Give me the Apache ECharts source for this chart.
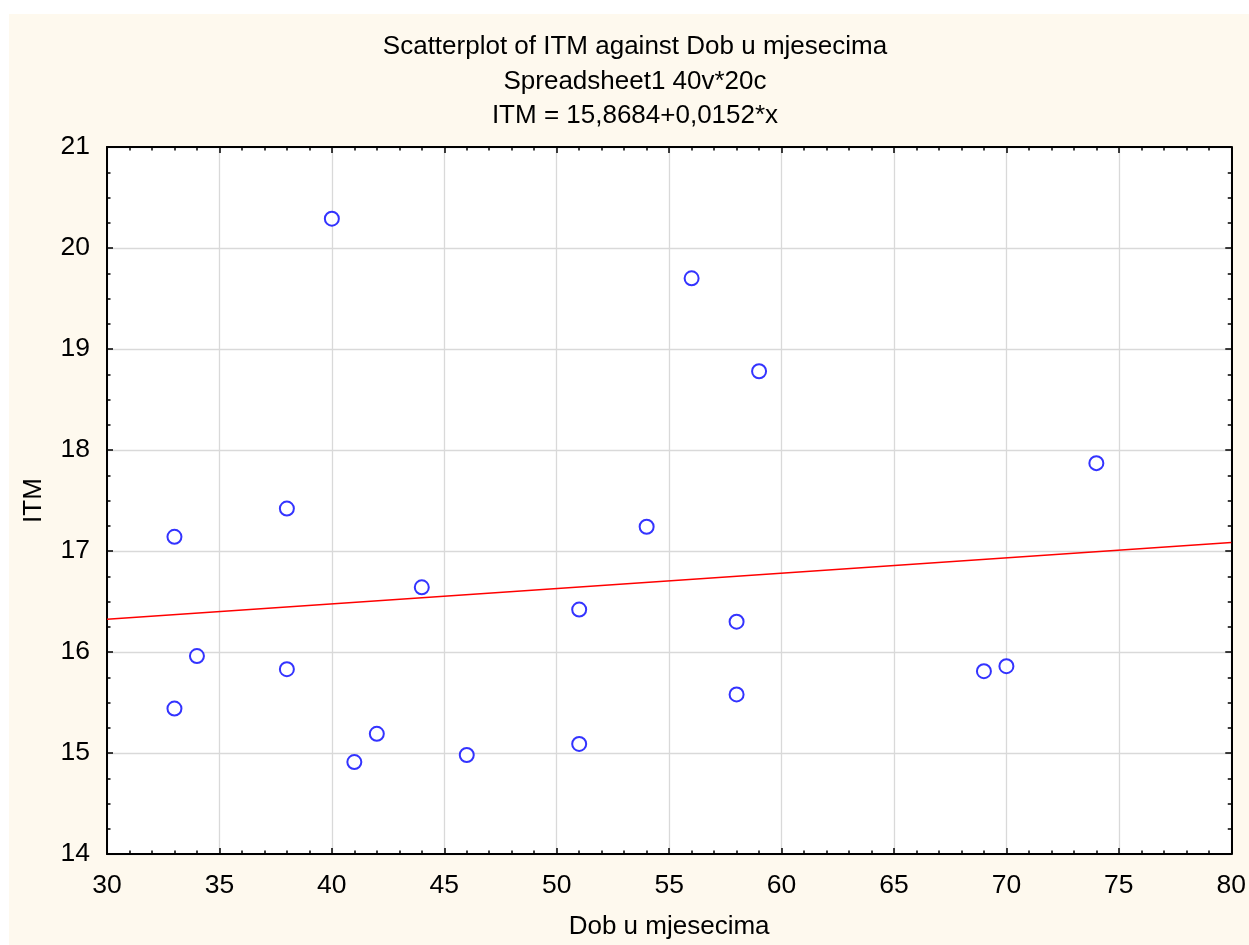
<!DOCTYPE html>
<html>
<head>
<meta charset="utf-8">
<script src="https://cdn.jsdelivr.net/npm/echarts@6/dist/echarts.min.js"></script>
<style>
  html, body { margin: 0; padding: 0; background: #ffffff; }
  #wrap { position: relative; width: 1249px; height: 945px; background: #ffffff; overflow: hidden; }
  #cream { position: absolute; left: 9px; top: 14px; width: 1240px; height: 931px; background: #fef9ee; }
  #chart { position: absolute; left: 0; top: 0; width: 1249px; height: 945px; }
</style>
</head>
<body>
<div id="wrap"><div id="cream"></div><div id="chart"></div></div>
<script>
// Data
const dobMonths = [33, 33, 34, 38, 38, 40, 41, 42, 44, 46, 51, 51, 54, 56, 58, 58, 59, 69, 70, 74];
const itmValues = [17.14, 15.44, 15.96, 17.42, 15.83, 20.29, 14.91, 15.19, 16.64, 14.98, 16.42, 15.09, 17.24, 19.70, 16.30, 15.58, 18.78, 15.81, 15.86, 17.87];
const regIntercept = 15.8684;
const regSlope = 0.0152;
const xRange = [30, 80];
const yRange = [14, 21];
const titleLines = ['Scatterplot of ITM against Dob u mjesecima', 'Spreadsheet1 40v*20c', 'ITM = 15,8684+0,0152*x'];
const xName = 'Dob u mjesecima';
const yName = 'ITM';

const points = dobMonths.map((x, i) => [x, itmValues[i]]);
const fitLine = xRange.map(x => [x, regIntercept + regSlope * x]);

const FONT = '"Liberation Sans", Arial, sans-serif';
const axisLineStyle = { show: true, onZero: false, lineStyle: { color: '#000', width: 2 } };

const chart = echarts.init(document.getElementById('chart'), null, { renderer: 'canvas' });
chart.setOption({
  backgroundColor: 'transparent',
  animation: false,
  title: {
    text: titleLines.join('\n'),
    left: 635,
    top: 30,
    padding: 0,
    textAlign: 'center',
    textStyle: { fontFamily: FONT, fontSize: 26, fontWeight: 'normal', color: '#000', lineHeight: 34.5 }
  },
  grid: {
    left: 107, right: 16, top: 147, bottom: 90,
    show: true, backgroundColor: '#ffffff', borderWidth: 0
  },
  xAxis: [{
    type: 'value', min: xRange[0], max: xRange[1], interval: 5, position: 'bottom',
    name: xName, nameLocation: 'middle', nameGap: 60,
    nameTextStyle: { fontFamily: FONT, fontSize: 26, color: '#000' },
    axisLine: axisLineStyle,
    axisTick: { show: true, inside: true, length: 6, lineStyle: { color: '#000', width: 1.5 } },
    minorTick: { show: true, splitNumber: 5, length: 3.5, lineStyle: { color: '#000', width: 1.5 } },
    axisLabel: { fontFamily: FONT, fontSize: 26.5, color: '#000', margin: 18 },
    splitLine: { show: true, lineStyle: { color: '#d9d9d9', width: 1.3 } }
  }, {
    type: 'value', min: xRange[0], max: xRange[1], interval: 5, position: 'top',
    axisLine: axisLineStyle,
    axisTick: { show: true, inside: true, length: 6, lineStyle: { color: '#000', width: 1.5 } },
    minorTick: { show: true, splitNumber: 5, length: 3.5, lineStyle: { color: '#000', width: 1.5 } },
    axisLabel: { show: false },
    splitLine: { show: false }
  }],
  yAxis: [{
    type: 'value', min: yRange[0], max: yRange[1], interval: 1, position: 'left',
    name: yName, nameLocation: 'middle', nameGap: 60, nameRotate: 90,
    nameTextStyle: { fontFamily: FONT, fontSize: 26, color: '#000' },
    axisLine: axisLineStyle,
    axisTick: { show: true, inside: true, length: 6, lineStyle: { color: '#000', width: 1.5 } },
    minorTick: { show: true, splitNumber: 4, length: 3.5, lineStyle: { color: '#000', width: 1.5 } },
    axisLabel: { fontFamily: FONT, fontSize: 26.5, color: '#000', margin: 17 },
    splitLine: { show: true, lineStyle: { color: '#d9d9d9', width: 1.3 } }
  }, {
    type: 'value', min: yRange[0], max: yRange[1], interval: 1, position: 'right',
    axisLine: axisLineStyle,
    axisTick: { show: true, inside: true, length: 6, lineStyle: { color: '#000', width: 1.5 } },
    minorTick: { show: true, splitNumber: 4, length: 3.5, lineStyle: { color: '#000', width: 1.5 } },
    axisLabel: { show: false },
    splitLine: { show: false }
  }],
  series: [{
    type: 'line',
    data: fitLine,
    xAxisIndex: 0, yAxisIndex: 0,
    showSymbol: false, symbol: 'none',
    lineStyle: { color: '#ff0000', width: 1.6 },
    z: 2
  }, {
    type: 'scatter',
    data: points,
    xAxisIndex: 0, yAxisIndex: 0,
    symbol: 'emptyCircle',
    symbolSize: 14,
    itemStyle: { color: '#0000ff', borderColor: '#0000ff', borderWidth: 2.2 },
    z: 3
  }]
});
</script>
</body>
</html>
